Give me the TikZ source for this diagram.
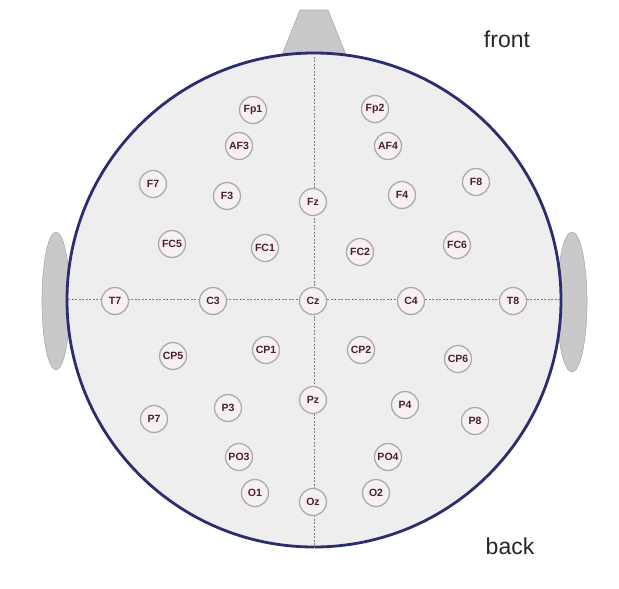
\documentclass[tikz,border=0pt]{standalone}
\usepackage{fontspec}
\setmainfont{Liberation Sans}
\definecolor{headline}{HTML}{2B2D6E}
\definecolor{headfill}{HTML}{EEEEEF}
\definecolor{earfill}{HTML}{C9C9CB}
\definecolor{elborder}{HTML}{ABABAB}
\definecolor{elfill}{HTML}{F7F0F2}
\definecolor{eltext}{HTML}{4A1E2C}
\definecolor{gridline}{HTML}{7A7A7A}
\tikzset{
  electrode/.style={circle, draw=elborder, line width=1.3pt, fill=elfill,
    minimum size=27pt, inner sep=0pt, text=eltext,
    font=\fontsize{10.5}{10.5}\selectfont\bfseries},
  earshape/.style={fill=earfill, draw=earfill!85!black, line width=0.6pt},
  gridstyle/.style={draw=gridline, dashed, dash pattern=on 2pt off 1.5pt, line width=0.8pt},
  sidelabel/.style={font=\fontsize{23}{23}\selectfont, text=black!85}
}
\begin{document}
\begin{tikzpicture}[x=1pt,y=-1pt]
\useasboundingbox (0,0) rectangle (619,589);
\fill[white] (0,0) rectangle (619,589);
% ears and nose (behind head)
\filldraw[earshape] (56,301) ellipse [x radius=14, y radius=69];
\filldraw[earshape] (572,302) ellipse [x radius=15, y radius=70];
\filldraw[earshape] (300,10) -- (328,10) -- (348,60) -- (280,60) -- cycle;
% head
\node[circle, minimum size=494pt, inner sep=0pt, fill=headfill, draw=headline, line width=2.8pt] (head) at (314,300) {};
% midlines
\coordinate (ntop) at (314,53);
\coordinate (nbot) at (314,548);
\coordinate (nleft) at (68,299);
\coordinate (nright) at (560,299);
\draw[gridstyle] (ntop) -- (nbot);
\draw[gridstyle] (nleft) -- (nright);
% electrodes
\node[electrode] (Fp1) at (253,110) {Fp1};
\node[electrode] (Fp2) at (375,109) {Fp2};
\node[electrode] (AF3) at (239,146) {AF3};
\node[electrode] (AF4) at (388,146) {AF4};
\node[electrode] (F7) at (153,184) {F7};
\node[electrode] (F3) at (227,196) {F3};
\node[electrode] (Fz) at (313,202) {Fz};
\node[electrode] (F4) at (402,195) {F4};
\node[electrode] (F8) at (476,182) {F8};
\node[electrode] (FC5) at (172,244) {FC5};
\node[electrode] (FC1) at (265,248) {FC1};
\node[electrode] (FC2) at (360,252) {FC2};
\node[electrode] (FC6) at (457,245) {FC6};
\node[electrode] (T7) at (115,301) {T7};
\node[electrode] (C3) at (213,301) {C3};
\node[electrode] (Cz) at (313,301) {Cz};
\node[electrode] (C4) at (411,301) {C4};
\node[electrode] (T8) at (513,301) {T8};
\node[electrode] (CP5) at (173,356) {CP5};
\node[electrode] (CP1) at (266,350) {CP1};
\node[electrode] (CP2) at (361,350) {CP2};
\node[electrode] (CP6) at (458,359) {CP6};
\node[electrode] (P7) at (154,419) {P7};
\node[electrode] (P3) at (228,408) {P3};
\node[electrode] (Pz) at (313,400) {Pz};
\node[electrode] (P4) at (405,405) {P4};
\node[electrode] (P8) at (475,421) {P8};
\node[electrode] (PO3) at (239,457) {PO3};
\node[electrode] (PO4) at (388,457) {PO4};
\node[electrode] (O1) at (255,493) {O1};
\node[electrode] (Oz) at (313,502) {Oz};
\node[electrode] (O2) at (376,493) {O2};
% labels
\node[sidelabel] (front) at (507,39) {front};
\node[sidelabel] (back) at (510,546) {back};
\end{tikzpicture}
\end{document}
